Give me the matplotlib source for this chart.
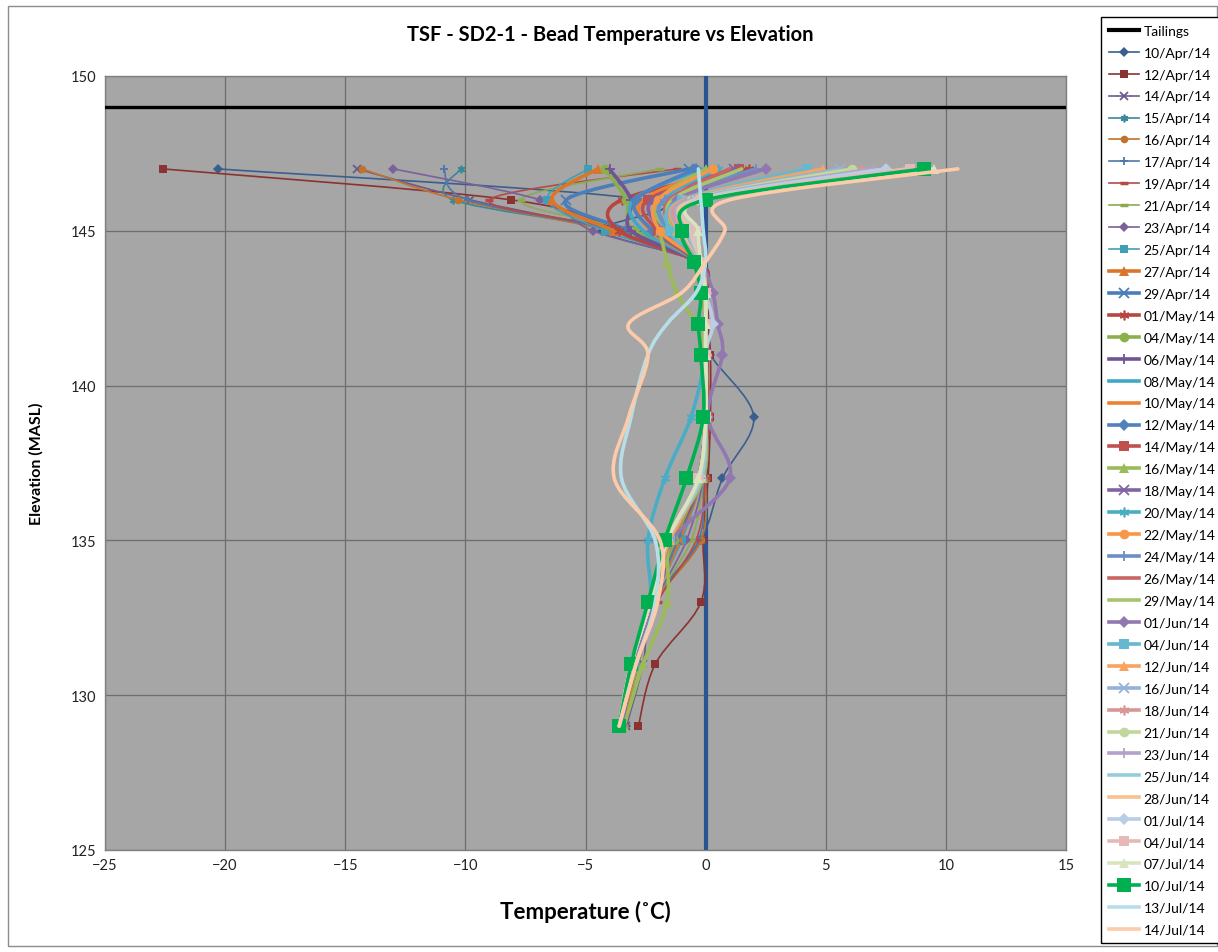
import numpy as np
import matplotlib
matplotlib.use("Agg")
import matplotlib.pyplot as plt
from matplotlib.path import Path
from matplotlib.patches import PathPatch, Rectangle
from matplotlib.lines import Line2D

plt.rcParams["font.family"] = ["Lato", "DejaVu Sans"]

elevation = [147, 146, 145, 144, 143, 142, 141, 139, 137, 135, 133, 131, 129]
tailings_elev = 149
zero_line_elev = [125, 150]

dates = [
    "10/Apr/14", "12/Apr/14", "14/Apr/14", "15/Apr/14", "16/Apr/14", "17/Apr/14",
    "19/Apr/14", "21/Apr/14", "23/Apr/14", "25/Apr/14", "27/Apr/14", "29/Apr/14",
    "01/May/14", "04/May/14", "06/May/14", "08/May/14", "10/May/14", "12/May/14",
    "14/May/14", "16/May/14", "18/May/14", "20/May/14", "22/May/14", "24/May/14",
    "26/May/14", "29/May/14", "01/Jun/14", "04/Jun/14", "12/Jun/14", "16/Jun/14",
    "18/Jun/14", "21/Jun/14", "23/Jun/14", "25/Jun/14", "28/Jun/14", "01/Jul/14",
    "04/Jul/14", "07/Jul/14", "10/Jul/14", "13/Jul/14", "14/Jul/14",
]

temps = [
    [-20.3, -2.5, -4.3, -0.3, 0.0, 0.1, 0.2, 2.0, 0.7, -0.2, -2.1, -2.9, -3.3],
    [-22.6, -8.1, -3.5, -0.2, 0.1, 0.1, 0.2, 0.2, 0.1, -0.1, -0.2, -2.1, -2.8],
    [-14.5, -9.8, -3.8, -0.3, 0.0, 0.0, 0.1, 0.1, 0.0, -0.2, -2.2, -2.6, -3.3],
    [-10.2, -10.5, -3.6, -0.2, 0.0, 0.0, 0.1, 0.0, 0.0, -0.2, -2.3, -2.9, -3.4],
    [-14.3, -10.3, -4.0, -0.3, 0.0, 0.0, 0.1, 0.0, 0.0, -0.2, -2.1, -2.9, -3.4],
    [-10.9, -9.9, -3.7, -0.2, 0.0, 0.0, 0.1, 0.0, -0.1, -0.3, -2.2, -2.9, -3.5],
    [-1.2, -9.0, -3.3, -0.2, 0.1, 0.0, 0.1, 0.1, 0.0, -0.4, -2.0, -2.8, -3.4],
    [-1.9, -7.7, -3.0, -0.3, 0.0, 0.0, 0.0, 0.0, -0.1, -0.6, -2.1, -2.8, -3.4],
    [-13.0, -6.9, -4.7, -0.4, 0.0, 0.0, 0.0, 0.0, -0.1, -0.8, -2.1, -2.9, -3.5],
    [-4.9, -6.6, -4.2, -0.4, 0.0, 0.0, 0.0, 0.0, -0.2, -1.0, -2.2, -2.9, -3.5],
    [-4.5, -6.4, -3.8, -0.4, 0.0, 0.0, 0.0, 0.0, -0.2, -1.1, -2.2, -2.9, -3.5],
    [-0.7, -5.8, -3.2, -0.4, -0.1, 0.0, 0.0, 0.0, -0.2, -1.2, -2.2, -3.0, -3.5],
    [1.8, -3.5, -3.6, -0.4, -0.1, 0.0, 0.0, 0.0, -0.2, -1.3, -2.2, -3.0, -3.5],
    [-4.2, -3.3, -3.0, -0.4, -0.1, 0.0, 0.0, 0.0, -0.3, -1.3, -2.3, -3.0, -3.6],
    [-4.0, -3.1, -3.1, -0.4, -0.1, 0.0, 0.0, 0.0, -0.3, -1.4, -2.3, -3.0, -3.6],
    [-0.2, -3.0, -2.6, -0.4, -0.1, 0.0, 0.0, 0.0, -0.3, -1.4, -2.3, -3.0, -3.6],
    [0.5, -2.6, -2.3, -0.4, -0.1, 0.0, 0.0, 0.0, -0.3, -1.4, -2.3, -3.1, -3.6],
    [-0.4, -2.9, -2.2, -0.4, -0.1, 0.0, 0.0, 0.0, -0.3, -1.5, -2.3, -3.1, -3.6],
    [1.4, -2.4, -2.0, -0.4, -0.1, 0.0, 0.0, 0.1, -0.3, -1.5, -2.3, -3.1, -3.6],
    [0.0, -2.0, -1.9, -1.6, -1.2, -0.4, 0.0, 0.0, -0.1, -1.5, -1.6, -2.6, -3.4],
    [1.2, -2.2, -1.8, -0.4, -0.1, 0.0, 0.0, 0.0, -0.3, -1.5, -2.3, -3.1, -3.6],
    [0.5, -1.8, -1.6, -0.3, -0.1, 0.0, 0.0, -0.6, -1.7, -2.4, -2.3, -3.0, -3.6],
    [0.3, -2.0, -1.9, -0.3, -0.1, 0.0, 0.0, 0.0, -0.3, -1.5, -2.3, -3.1, -3.6],
    [2.1, -1.7, -1.5, -0.3, -0.1, 0.0, 0.0, 0.0, -0.3, -1.5, -2.3, -3.1, -3.6],
    [1.0, -1.5, -1.4, -0.3, -0.1, 0.0, 0.0, 0.0, -0.3, -1.5, -2.3, -3.1, -3.6],
    [1.5, -1.4, -1.3, -0.3, -0.1, 0.0, 0.0, 0.0, -0.2, -1.5, -2.3, -3.1, -3.6],
    [2.5, -1.2, -1.2, -0.2, 0.3, 0.5, 0.7, 0.1, 1.0, -1.4, -2.2, -3.0, -3.5],
    [4.2, -1.0, -1.5, -0.2, 0.0, 0.0, 0.0, 0.0, -0.2, -1.5, -2.3, -3.1, -3.6],
    [4.9, -0.9, -1.2, -0.2, 0.0, 0.0, 0.0, 0.0, -0.2, -1.5, -2.3, -3.1, -3.6],
    [5.6, -0.8, -1.1, -0.2, 0.0, 0.0, 0.0, 0.0, -0.2, -1.6, -2.3, -3.1, -3.6],
    [6.5, -0.7, -1.0, -0.2, 0.0, 0.0, 0.0, 0.0, -0.2, -1.6, -2.3, -3.1, -3.6],
    [6.1, -0.6, -0.9, -0.2, 0.0, 0.0, 0.0, 0.0, -0.2, -1.6, -2.3, -3.1, -3.6],
    [7.0, -0.6, -0.8, -0.2, 0.0, 0.0, 0.0, 0.0, -0.2, -1.6, -2.3, -3.1, -3.6],
    [7.5, -0.5, -0.7, -0.2, 0.0, 0.0, 0.0, 0.0, -0.2, -1.6, -2.3, -3.1, -3.6],
    [8.4, -0.4, -0.6, -0.2, 0.0, 0.0, 0.0, 0.0, -0.3, -1.6, -2.3, -3.1, -3.6],
    [7.5, -0.3, -0.5, -0.2, 0.0, 0.3, 0.0, 0.0, -0.3, -1.6, -2.3, -3.1, -3.6],
    [8.5, -0.2, -0.4, -0.2, 0.0, 0.0, 0.0, 0.0, -0.3, -1.6, -2.3, -3.1, -3.6],
    [9.5, -0.1, -0.3, -0.2, 0.0, 0.0, 0.0, 0.0, -0.3, -1.6, -2.3, -3.1, -3.6],
    [9.1, 0.0, -1.0, -0.5, -0.2, -0.3, -0.2, -0.1, -0.8, -1.7, -2.4, -3.1, -3.6],
    [-0.3, -0.2, -0.1, 0.0, -0.4, -1.6, -2.4, -3.1, -3.5, -2.1, -2.1, -2.9, -3.6],
    [10.5, 1.0, 0.8, 0.0, -1.0, -3.2, -2.4, -3.2, -3.8, -1.9, -2.0, -2.9, -3.6],
]

colors = [
    "#3A5F8E", "#8B3232", "#6C5A8A", "#36899B", "#C0722E", "#4F77AA",
    "#B34A47", "#8DAA52", "#7A619B", "#3F9FB6", "#D9762B", "#4A7DBA",
    "#B6463F", "#8BB04B", "#6F5497", "#3FA8C4", "#F08030", "#4F81BD",
    "#C0504D", "#9BBB59", "#8064A2", "#4BACC6", "#F79646", "#6C8FC6",
    "#C86562", "#A8C46F", "#9178B0", "#65B8D0", "#F8A460", "#95B3D7",
    "#D99694", "#C3D69B", "#B3A2C7", "#93CDDD", "#FAC090", "#B9CDE5",
    "#E6B9B8", "#D7E4BD", "#00B050", "#B7DEE8", "#FBCBAA",
]

markers = [
    "D", "s", "x", "*", "o", "+", "_", "_", "D", "s", "^", "x",
    "*", "o", "+", None, None, "D", "s", "^", "x", "*", "o", "+",
    None, None, "D", "s", "^", "x", "*", "o", "+", None, None, "D",
    "s", "^", "s", None, None,
]


def smooth_path(xs, ys):
    pts = np.column_stack([xs, ys]).astype(float)
    n = len(pts)
    verts = [pts[0]]
    codes = [Path.MOVETO]
    for i in range(n - 1):
        p0 = pts[i - 1] if i > 0 else pts[i]
        p1 = pts[i]
        p2 = pts[i + 1]
        p3 = pts[i + 2] if i + 2 < n else pts[i + 1]
        verts += [p1 + (p2 - p0) / 6.0, p2 - (p3 - p1) / 6.0, p2]
        codes += [Path.CURVE4] * 3
    return Path(verts, codes)


def marker_style(m, thick, big=False):
    ms = 5.5 if not thick else 7.0
    if big:
        ms = 10.5
    if m == "D":
        ms *= 0.85
    if m == "*":
        return dict(marker=(6, 2, 0), markersize=ms, markeredgewidth=1.2)
    if m in ("x", "+"):
        return dict(marker=m, markersize=ms, markeredgewidth=1.3)
    if m == "_":
        return dict(marker=m, markersize=ms, markeredgewidth=3.0 if thick else 2.5)
    if m is None:
        return dict(marker="None")
    return dict(marker=m, markersize=ms, markeredgewidth=0)


W, H = 1218, 953
fig = plt.figure(figsize=(W / 100, H / 100), dpi=100)
fig.patches.append(Rectangle((8 / W, 6 / H), 1 - 9 / W, 1 - 13 / H, transform=fig.transFigure,
                             fill=False, edgecolor="#8C8C8C", linewidth=1.0))

ax = fig.add_axes([105 / W, 1 - 851 / H, (1066 - 105) / W, (851 - 77) / H])
ax.set_facecolor("#A6A6A6")
ax.set_xlim(-25, 15)
ax.set_ylim(125, 150)
ax.set_xticks(np.arange(-25, 16, 5))
ax.set_yticks(np.arange(125, 151, 5))
ax.grid(True, color="#6E6E6E", linewidth=0.9)
ax.set_axisbelow(True)
ax.tick_params(length=0, labelsize=10.5, pad=6, colors="#222222")
for s in ax.spines.values():
    s.set_color("#808080")
    s.set_linewidth(1.0)

handles = []
ax.axhline(tailings_elev, color="black", linewidth=2.4, zorder=3)
handles.append(Line2D([], [], color="black", linewidth=3.0))

ax.plot([0, 0], zero_line_elev, color="#2B5592", linewidth=3.0, zorder=3, solid_capstyle="butt")

for i, (name, vals) in enumerate(zip(dates, temps)):
    thick = i >= 10
    lw = 2.6 if thick else 1.2
    big = name == "10/Jul/14"
    col = colors[i]
    z = 4 + i * 0.01
    ax.add_patch(PathPatch(smooth_path(vals, elevation), fill=False, edgecolor=col,
                           linewidth=lw, zorder=z, capstyle="round", joinstyle="round"))
    ms = marker_style(markers[i], thick, big)
    if markers[i] is not None:
        ax.plot(vals, elevation, linestyle="None", color=col, zorder=z + 0.005, **ms)
    handles.append(Line2D([], [], color=col, linewidth=lw, **ms))

labels = ["Tailings"] + dates
fig.legend(handles, labels, loc="upper left", bbox_to_anchor=(1101 / W, 1 - 18 / H),
           frameon=True, fancybox=False, edgecolor="black", framealpha=1,
           fontsize=10, handlelength=2.2, labelspacing=0.715, borderpad=0.55,
           handletextpad=0.3, borderaxespad=0)

fig.text(610 / W, 1 - 35 / H, "TSF - SD2-1 - Bead Temperature vs Elevation",
         ha="center", va="center", fontsize=14.5, fontweight="bold")
ax.set_xlabel("Temperature (˚C)", fontsize=16, fontweight="bold", labelpad=20)
ax.set_ylabel("Elevation (MASL)", fontsize=11.5, fontweight="bold", labelpad=20)

fig.savefig("out.png", dpi=100)
